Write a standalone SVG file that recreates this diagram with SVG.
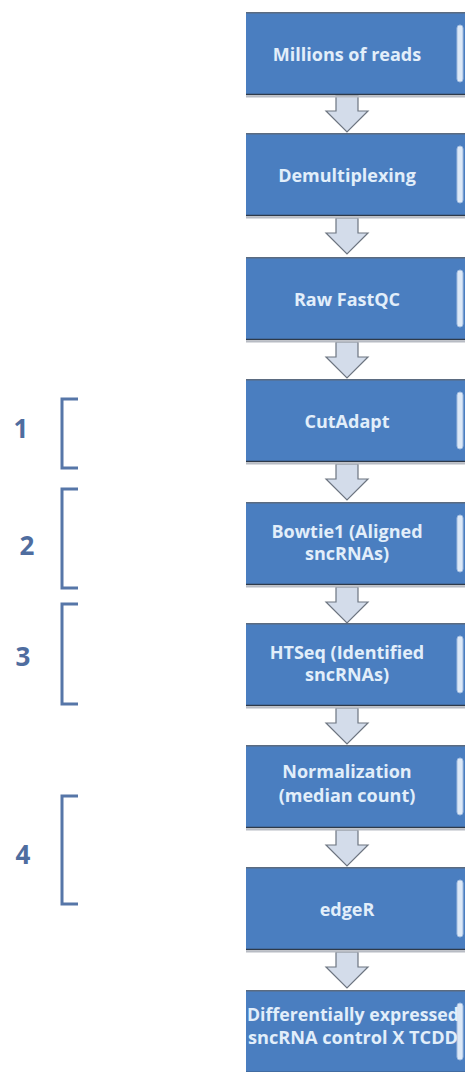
<svg xmlns="http://www.w3.org/2000/svg" width="465" height="1072" viewBox="0 0 465 1072">
<defs>
<style>
.box{fill:#4a7ec0;}
.topline{stroke:#5b6b80;stroke-width:1.5;}
.botline{stroke:#2e3a4a;stroke-width:1.5;}
.shadow{stroke:#b8bcc4;stroke-width:2;}
.tab{fill:#dce8f6;stroke:#9fbbe0;stroke-width:1;}
.lbl{font-family:"Open Sans","Liberation Sans",sans-serif;font-weight:700;font-size:18px;fill:#e2eefa;text-anchor:middle;}
.num{font-family:"Open Sans","Liberation Sans",sans-serif;font-weight:700;font-size:26px;fill:#4f6d9f;text-anchor:middle;}
.br{fill:none;stroke:#5676a8;stroke-width:3;stroke-linejoin:miter;}
.arr{fill:#d3dcea;stroke:#6d7580;stroke-width:1.2;}
</style>
<g id="boxshape">
<rect class="box" x="0" y="0" width="219" height="83"/>
<line class="topline" x1="0" y1="0.75" x2="219" y2="0.75"/>
<line class="botline" x1="0" y1="82.5" x2="219" y2="82.5"/>
<line class="shadow" x1="0" y1="84.5" x2="219" y2="84.5"/>
<rect class="tab" x="211" y="13" width="6" height="57" rx="3"/>
</g>
<path id="arrowshape" d="M-11,0 H11 V15 H21 L0,36 L-21,15 H-11 Z"/>
</defs>

<g id="connectors">
<use href="#arrowshape" class="arr" x="347" y="96"/>
<use href="#arrowshape" class="arr" x="347" y="218"/>
<use href="#arrowshape" class="arr" x="347" y="342"/>
<use href="#arrowshape" class="arr" x="347" y="464"/>
<use href="#arrowshape" class="arr" x="347" y="587"/>
<use href="#arrowshape" class="arr" x="347" y="708"/>
<use href="#arrowshape" class="arr" x="347" y="830"/>
<use href="#arrowshape" class="arr" x="347" y="952"/>
</g>

<g id="node1"><use href="#boxshape" x="246" y="12"/><text class="lbl" x="347" y="61">Millions of reads</text></g>
<g id="node2"><use href="#boxshape" x="246" y="133"/><text class="lbl" x="347" y="182">Demultiplexing</text></g>
<g id="node3"><use href="#boxshape" x="246" y="257"/><text class="lbl" x="347" y="306">Raw FastQC</text></g>
<g id="node4"><use href="#boxshape" x="246" y="379"/><text class="lbl" x="347" y="428">CutAdapt</text></g>
<g id="node5"><use href="#boxshape" x="246" y="502"/><text class="lbl" x="347" y="538">Bowtie1 (Aligned</text><text class="lbl" x="347" y="560">sncRNAs)</text></g>
<g id="node6"><use href="#boxshape" x="246" y="623"/><text class="lbl" x="347" y="659">HTSeq (Identified</text><text class="lbl" x="347" y="681">sncRNAs)</text></g>
<g id="node7"><use href="#boxshape" x="246" y="745"/><text class="lbl" x="347" y="778">Normalization</text><text class="lbl" x="347" y="802">(median count)</text></g>
<g id="node8"><use href="#boxshape" x="246" y="867"/><text class="lbl" x="347" y="916">edgeR</text></g>
<g id="node9"><use href="#boxshape" x="246" y="990"/><text class="lbl" x="353" y="1021" textLength="212" lengthAdjust="spacingAndGlyphs">Differentially expressed</text><text class="lbl" x="353" y="1044" textLength="210" lengthAdjust="spacingAndGlyphs">sncRNA control X TCDD</text></g>

<g id="bracket1"><path class="br" d="M78,399 H62 V468 H78"/><text class="num" x="21" y="438">1</text></g>
<g id="bracket2"><path class="br" d="M78,489 H62 V588 H78"/><text class="num" x="27" y="555">2</text></g>
<g id="bracket3"><path class="br" d="M78,604 H62 V704 H78"/><text class="num" x="23" y="666">3</text></g>
<g id="bracket4"><path class="br" d="M78,796 H62 V904 H78"/><text class="num" x="23" y="864">4</text></g>
</svg>
